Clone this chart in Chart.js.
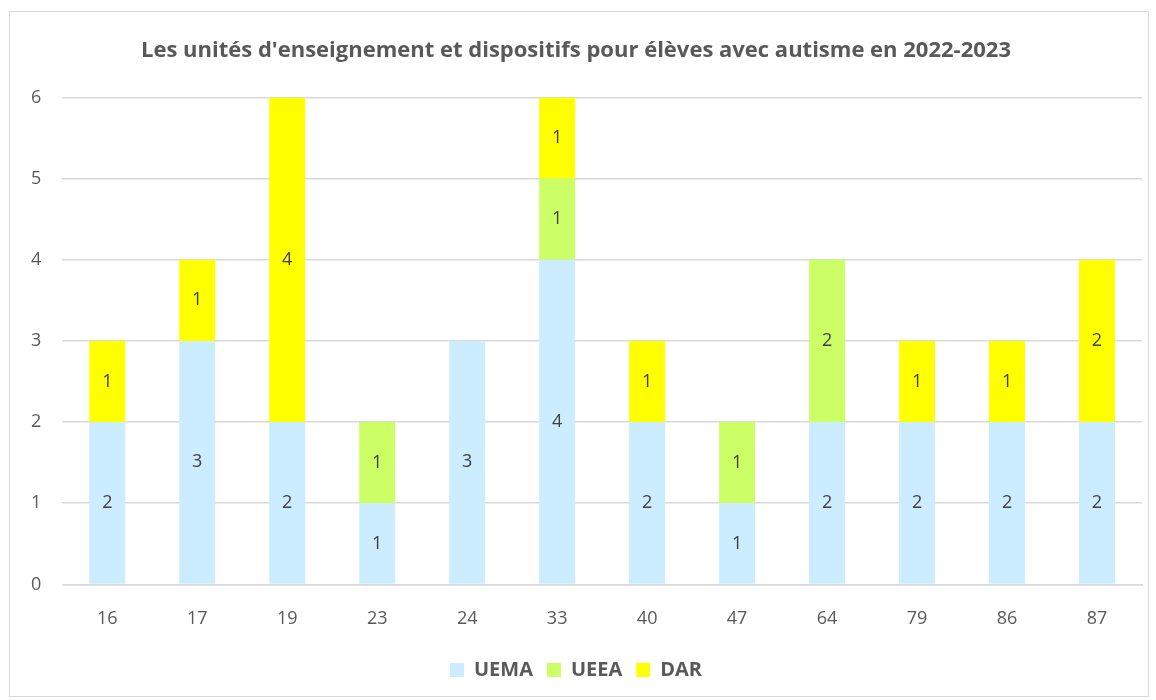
<!DOCTYPE html>
<html>
<head>
<meta charset="utf-8">
<script src="https://cdn.jsdelivr.net/npm/chart.js@4"></script>
<style>
  html, body { margin: 0; padding: 0; background: #fff; }
  #wrap { position: absolute; left: 9px; top: 11px; width: 1138px; height: 684px; border: 1px solid #d9d9d9; }
  canvas { display: block; }
</style>
</head>
<body>
<div id="wrap"><canvas id="autismeChart" width="1138" height="684"></canvas></div>
<script>
const departements = ['16', '17', '19', '23', '24', '33', '40', '47', '64', '79', '86', '87'];
const uema = [2, 3, 2, 1, 3, 4, 2, 1, 2, 2, 2, 2];
const ueea = [0, 0, 0, 1, 0, 1, 0, 1, 2, 0, 0, 0];
const dar = [1, 1, 4, 0, 0, 1, 1, 0, 0, 1, 1, 2];
const yTicks = [0, 1, 2, 3, 4, 5, 6];

const fontFamily = '"Open Sans", sans-serif';

// etiquettes au centre de chaque segment
const etiquettes = {
  id: 'etiquettes',
  afterDatasetsDraw(chart) {
    const ctx = chart.ctx;
    ctx.save();
    ctx.font = '18px ' + fontFamily;
    ctx.fillStyle = '#404040';
    ctx.textAlign = 'center';
    ctx.textBaseline = 'middle';
    chart.data.datasets.forEach((ds, i) => {
      const meta = chart.getDatasetMeta(i);
      meta.data.forEach((bar, j) => {
        const v = ds.data[j];
        if (!v) return;
        ctx.fillText(String(v), bar.x, (bar.y + bar.base) / 2);
      });
    });
    ctx.restore();
  }
};

const autismeChart = new Chart(
  document.querySelector('#autismeChart'),
  {
    type: 'bar',
    data: {
      labels: departements,
      datasets: [
        { label: 'UEMA', data: uema, backgroundColor: '#CCECFF' },
        { label: 'UEEA', data: ueea, backgroundColor: '#CCFF66' },
        { label: 'DAR', data: dar, backgroundColor: '#FFFF00' }
      ]
    },
    options: {
      responsive: false,
      animation: false,
      layout: { padding: { left: 0, right: 6, top: 4, bottom: 6 } },
      datasets: { bar: { categoryPercentage: 1, barPercentage: 0.4 } },
      plugins: {
        title: {
          display: true,
          text: "Les unités d'enseignement et dispositifs pour élèves avec autisme en 2022-2023",
          color: '#595959',
          font: { family: fontFamily, size: 22, weight: 'bold' },
          padding: { top: 22, bottom: 33 }
        },
        legend: {
          position: 'bottom',
          labels: {
            color: '#595959',
            boxWidth: 14,
            boxHeight: 14,
            padding: 14,
            font: { family: fontFamily, size: 20, weight: 'bold' }
          }
        },
        tooltip: { enabled: false }
      },
      scales: {
        x: {
          stacked: true,
          grid: { display: false },
          border: { color: '#d9d9d9', width: 1.5 },
          ticks: { color: '#595959', padding: 16, font: { family: fontFamily, size: 18 } }
        },
        y: {
          stacked: true,
          min: 0,
          max: 6,
          afterBuildTicks: (axis) => { axis.ticks = yTicks.map(v => ({ value: v })); },
          grid: { color: '#d9d9d9', lineWidth: 1.5, drawTicks: false },
          border: { display: false },
          ticks: { color: '#595959', padding: 21, font: { family: fontFamily, size: 18 } }
        }
      }
    },
    plugins: [etiquettes]
  }
);
</script>
</body>
</html>
